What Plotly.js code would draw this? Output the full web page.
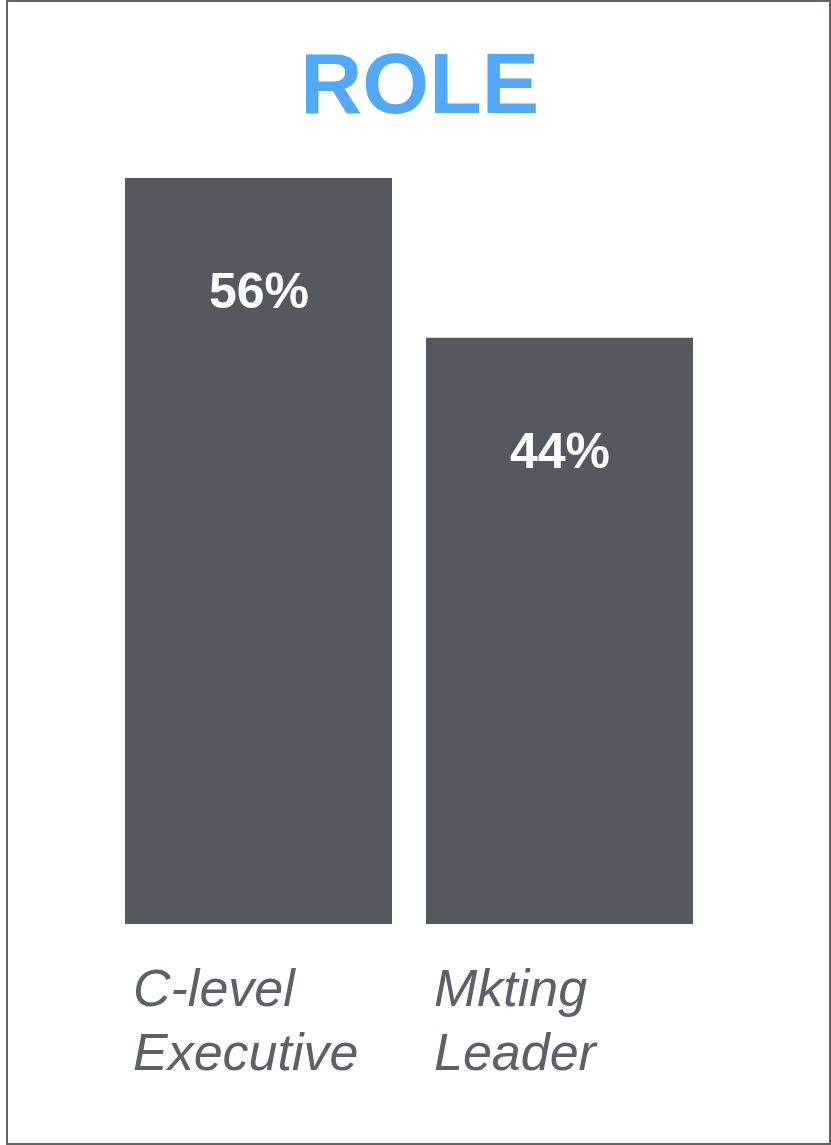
<!DOCTYPE html>
<html>
<head>
<meta charset="utf-8">
<script src="https://cdn.plot.ly/plotly-3.0.1.min.js"></script>
<style>
  html, body { margin: 0; padding: 0; background: #ffffff; }
  #wrap { position: relative; width: 831px; height: 1145px; overflow: hidden; }
  #chart { position: absolute; left: 0; top: 0; width: 831px; height: 1145px; }
  #frame { position: absolute; left: 6px; top: 0; width: 825px; height: 1145px;
           border: 2px solid #606369; box-sizing: border-box; pointer-events: none; }
</style>
</head>
<body>
<div id="wrap">
  <div id="chart"></div>
  <div id="frame"></div>
</div>
<script>
const chartTitle = "ROLE";
const categories = ["C-level Executive", "Mkting Leader"];
const categoryLines = [["C-level", "Executive"], ["Mkting", "Leader"]];
const values = [56, 44];
const valueLabels = ["56%", "44%"];

const barColor = "#55585f";
const labelColor = "#5d6066";

const trace = {
  type: "bar",
  x: categories,
  y: values,
  marker: { color: barColor, line: { width: 0 } },
  hoverinfo: "skip",
  showlegend: false
};

const annotations = [];
categories.forEach((c, i) => {
  annotations.push({
    xref: "x", yref: "y", x: c, y: values[i],
    text: "<b>" + valueLabels[i] + "</b>",
    showarrow: false, xanchor: "center", yanchor: "middle",
    yshift: -113,
    font: { family: "Liberation Sans, Arial, sans-serif", size: 50, color: "#ffffff" }
  });
  categoryLines[i].forEach((line, j) => {
    annotations.push({
      xref: "x", yref: "paper", x: c, y: 0,
      text: "<i>" + line + "</i>",
      showarrow: false, xanchor: "left", yanchor: "top", align: "left",
      xshift: -128, yshift: -33 - 64 * j,
      font: { family: "Liberation Sans, Arial, sans-serif", size: 52, color: labelColor }
    });
  });
});

const layout = {
  width: 831, height: 1145,
  margin: { l: 108, r: 121, t: 178, b: 221, pad: 0 },
  paper_bgcolor: "#ffffff", plot_bgcolor: "#ffffff",
  title: {
    text: "<b>" + chartTitle + "</b>",
    x: 0.505, xref: "container", xanchor: "center",
    y: 1 - 83 / 1145, yref: "container", yanchor: "middle",
    font: { family: "Liberation Sans, Arial, sans-serif", size: 86, color: "#53a9f8" }
  },
  bargap: 0.113,
  xaxis: { type: "category", range: [-0.5, 1.5], showticklabels: false, showgrid: false,
           zeroline: false, showline: false, ticks: "", fixedrange: true },
  yaxis: { range: [0, 56], showticklabels: false, showgrid: false, zeroline: false,
           showline: false, ticks: "", fixedrange: true },
  annotations: annotations,
  showlegend: false
};

Plotly.newPlot("chart", [trace], layout, { staticPlot: true, displayModeBar: false });
</script>
</body>
</html>
